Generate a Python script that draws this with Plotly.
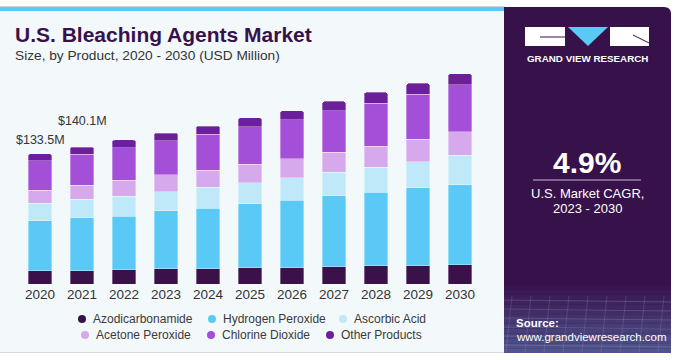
import plotly.graph_objects as go

years = ["2020", "2021", "2022", "2023", "2024", "2025", "2026", "2027", "2028", "2029", "2030"]
azodicarbonamide = [13.6, 13.7, 14.6, 15.5, 15.6, 16.6, 16.8, 17.9, 18.6, 18.8, 19.7]
hydrogen_peroxide = [51.2, 53.9, 54.6, 59.4, 62.1, 65.5, 68.9, 72.4, 75.5, 79.6, 81.9]
ascorbic_acid = [17.7, 19.1, 20.8, 19.8, 21.2, 21.8, 22.9, 24.3, 25.6, 26.9, 30.1]
acetone_peroxide = [13.6, 14.6, 16.4, 17.1, 17.7, 18.8, 19.5, 20.5, 21.5, 22.9, 24.2]
chlorine_dioxide = [30.2, 31.6, 33.2, 34.9, 36.6, 38.4, 39.9, 42.4, 44.1, 46.3, 47.9]
other_products = [7.2, 7.2, 7.9, 7.9, 8.5, 9.2, 9.5, 9.5, 11.0, 11.0, 11.6]

series_names = ["Azodicarbonamide", "Hydrogen Peroxide", "Ascorbic Acid",
                "Acetone Peroxide", "Chlorine Dioxide", "Other Products"]
series_values = [azodicarbonamide, hydrogen_peroxide, ascorbic_acid,
                 acetone_peroxide, chlorine_dioxide, other_products]
series_colors = ["#3a1149", "#5bc9f5", "#bfe9f9", "#d5a9eb", "#a44fd7", "#6b1f9b"]

label_years = ["2020", "2021"]
label_texts = ["&#36;133.5M", "&#36;140.1M"]
label_shift = [14, 26]

cagr_text = "4.9%"

W, H = 675, 360
L, R, T, B = 19, 194, 50, 76
PW, PH = W - L - R, H - T - B
FONT = "Liberation Sans, Arial"


def px(x):
    return (x - L) / PW


def py(y):
    return (H - B - y) / PH


fig = go.Figure()
for name, vals, col in zip(series_names, series_values, series_colors):
    fig.add_trace(go.Bar(
        x=years, y=vals, name=name, marker_color=col,
        marker_line=dict(width=0.6, color="rgba(255,255,255,0.55)"),
        hoverinfo="x+y+name",
    ))

totals = [sum(v[i] for v in series_values) for i in range(len(years))]

shapes = []
annotations = []

# backgrounds
shapes.append(dict(type="rect", xref="paper", yref="paper", layer="below",
                   x0=px(0), x1=px(505), y0=py(352), y1=py(11),
                   fillcolor="#f3f8fb", line_width=0))
shapes.append(dict(type="rect", xref="paper", yref="paper", layer="below",
                   x0=px(0), x1=px(505), y0=py(11), y1=py(7),
                   fillcolor="#5bc9f5", line_width=0))
shapes.append(dict(type="line", xref="paper", yref="paper", layer="below",
                   x0=px(0), x1=px(505), y0=py(6.5), y1=py(6.5),
                   line=dict(color="#cfd6da", width=1)))
shapes.append(dict(type="line", xref="paper", yref="paper", layer="below",
                   x0=px(0), x1=px(505), y0=py(352.5), y1=py(352.5),
                   line=dict(color="#d6dadc", width=1)))

# right panel with rounded top-right corner
x0p, x1p, y0p, y1p, rr = 504, 671, 7, 353, 7
path = (f"M {px(x0p)},{py(y1p)} L {px(x0p)},{py(y0p)} L {px(x1p - rr)},{py(y0p)} "
        f"Q {px(x1p)},{py(y0p)} {px(x1p)},{py(y0p + rr)} L {px(x1p)},{py(y1p)} Z")
shapes.append(dict(type="path", xref="paper", yref="paper", layer="below",
                   path=path, fillcolor="#371149", line_width=0))
# bottom gradient of the panel
n = 14
g0, g1 = 285, 353
c0 = (55, 17, 73)
c1 = (80, 84, 140)
for i in range(n):
    t = (i + 1) / n
    c = tuple(int(c0[k] + (c1[k] - c0[k]) * t) for k in range(3))
    ya = g0 + (g1 - g0) * i / n
    yb = g0 + (g1 - g0) * (i + 1) / n
    shapes.append(dict(type="rect", xref="paper", yref="paper", layer="below",
                       x0=px(x0p), x1=px(x1p), y0=py(yb), y1=py(ya),
                       fillcolor="rgb(%d,%d,%d)" % c, line_width=0))
# faint grid in the gradient
for i in range(6):
    yy = 300 + i * 9
    shapes.append(dict(type="line", xref="paper", yref="paper", layer="below",
                       x0=px(x0p), x1=px(x1p), y0=py(yy), y1=py(yy + 2),
                       line=dict(color="rgba(160,170,220,0.25)", width=1)))
for i in range(9):
    xx = 512 + i * 19
    shapes.append(dict(type="line", xref="paper", yref="paper", layer="below",
                       x0=px(xx), x1=px(xx - 6), y0=py(296), y1=py(352),
                       line=dict(color="rgba(160,170,220,0.2)", width=1)))

# logo
shapes.append(dict(type="rect", xref="paper", yref="paper", x0=px(525), x1=px(565),
                   y0=py(46), y1=py(27), fillcolor="white", line_width=0))
shapes.append(dict(type="path", xref="paper", yref="paper",
                   path=f"M {px(568)},{py(27)} L {px(608)},{py(27)} L {px(588)},{py(46)} Z",
                   fillcolor="#5bc9f5", line_width=0))
shapes.append(dict(type="rect", xref="paper", yref="paper", x0=px(610), x1=px(649),
                   y0=py(46), y1=py(27), fillcolor="white", line_width=0))
shapes.append(dict(type="line", xref="paper", yref="paper", x0=px(540), x1=px(565),
                   y0=py(37), y1=py(37), line=dict(color="#371149", width=1)))
shapes.append(dict(type="line", xref="paper", yref="paper", x0=px(633), x1=px(649),
                   y0=py(35), y1=py(43), line=dict(color="#371149", width=1)))
annotations.append(dict(xref="paper", yref="paper", x=px(587), y=py(58),
                        text="<b>GRAND VIEW RESEARCH</b>", showarrow=False,
                        font=dict(family=FONT, size=9.8, color="white"),
                        xanchor="center", yanchor="middle"))

# CAGR block
annotations.append(dict(xref="paper", yref="paper", x=px(587), y=py(162),
                        text=f"<b>{cagr_text}</b>", showarrow=False,
                        font=dict(family=FONT, size=30, color="white"),
                        xanchor="center", yanchor="middle"))
shapes.append(dict(type="line", xref="paper", yref="paper", x0=px(533), x1=px(641),
                   y0=py(180), y1=py(180), line=dict(color="#c9bcd6", width=1.2)))
annotations.append(dict(xref="paper", yref="paper", x=px(587), y=py(193),
                        text="U.S. Market CAGR,", showarrow=False,
                        font=dict(family=FONT, size=13, color="white"),
                        xanchor="center", yanchor="middle"))
annotations.append(dict(xref="paper", yref="paper", x=px(587), y=py(208),
                        text="2023 - 2030", showarrow=False,
                        font=dict(family=FONT, size=13, color="white"),
                        xanchor="center", yanchor="middle"))

# source
annotations.append(dict(xref="paper", yref="paper", x=px(514), y=py(323),
                        text="<b>Source:</b>", showarrow=False,
                        font=dict(family=FONT, size=11.5, color="white"),
                        xanchor="left", yanchor="middle"))
annotations.append(dict(xref="paper", yref="paper", x=px(514), y=py(337),
                        text="www.grandviewresearch.com", showarrow=False,
                        font=dict(family=FONT, size=11.5, color="white"),
                        xanchor="left", yanchor="middle"))

# titles
annotations.append(dict(xref="paper", yref="paper", x=px(13), y=py(34),
                        text="<b>U.S. Bleaching Agents Market</b>", showarrow=False,
                        font=dict(family=FONT, size=21, color="#37124a"),
                        xanchor="left", yanchor="middle"))
annotations.append(dict(xref="paper", yref="paper", x=px(13), y=py(55),
                        text="Size, by Product, 2020 - 2030 (USD Million)", showarrow=False,
                        font=dict(family=FONT, size=13.7, color="#333333"),
                        xanchor="left", yanchor="middle"))

# value labels
for yr, txt, sh in zip(label_years, label_texts, label_shift):
    i = years.index(yr)
    annotations.append(dict(x=i, y=totals[i], xref="x", yref="y", text=txt,
                            showarrow=False, yshift=sh, yanchor="middle",
                            font=dict(family=FONT, size=12.5, color="#333333")))

# custom legend
leg_pos = [(82, 319), (212, 319), (343, 319), (85, 335), (211, 335), (330, 335)]
for (lx, ly), name, col in zip(leg_pos, series_names, series_colors):
    r = 4
    shapes.append(dict(type="circle", xref="paper", yref="paper",
                       x0=px(lx - r), x1=px(lx + r), y0=py(ly + r), y1=py(ly - r),
                       fillcolor=col, line_width=0))
    annotations.append(dict(xref="paper", yref="paper", x=px(lx + 9), y=py(ly),
                            text=name, showarrow=False, xanchor="left", yanchor="middle",
                            font=dict(family=FONT, size=12, color="#3a3a3a")))

fig.update_layout(
    width=W, height=H,
    margin=dict(l=L, r=R, t=T, b=B, pad=0),
    barmode="stack", bargap=0.43, barcornerradius=3,
    paper_bgcolor="white", plot_bgcolor="rgba(0,0,0,0)",
    showlegend=False,
    shapes=shapes, annotations=annotations,
    xaxis=dict(type="category", range=[-0.5, 10.5], showgrid=False, showline=False,
               ticks="", tickfont=dict(family=FONT, size=13.5, color="#333333"),
               fixedrange=True),
    yaxis=dict(range=[0, PH * 1.024], showgrid=False, showline=False, zeroline=False,
               showticklabels=False, fixedrange=True),
)

fig.write_html(
    "out.html",
    config={"displayModeBar": False},
    post_script="document.body.style.margin='0';document.body.style.padding='0';",
)
